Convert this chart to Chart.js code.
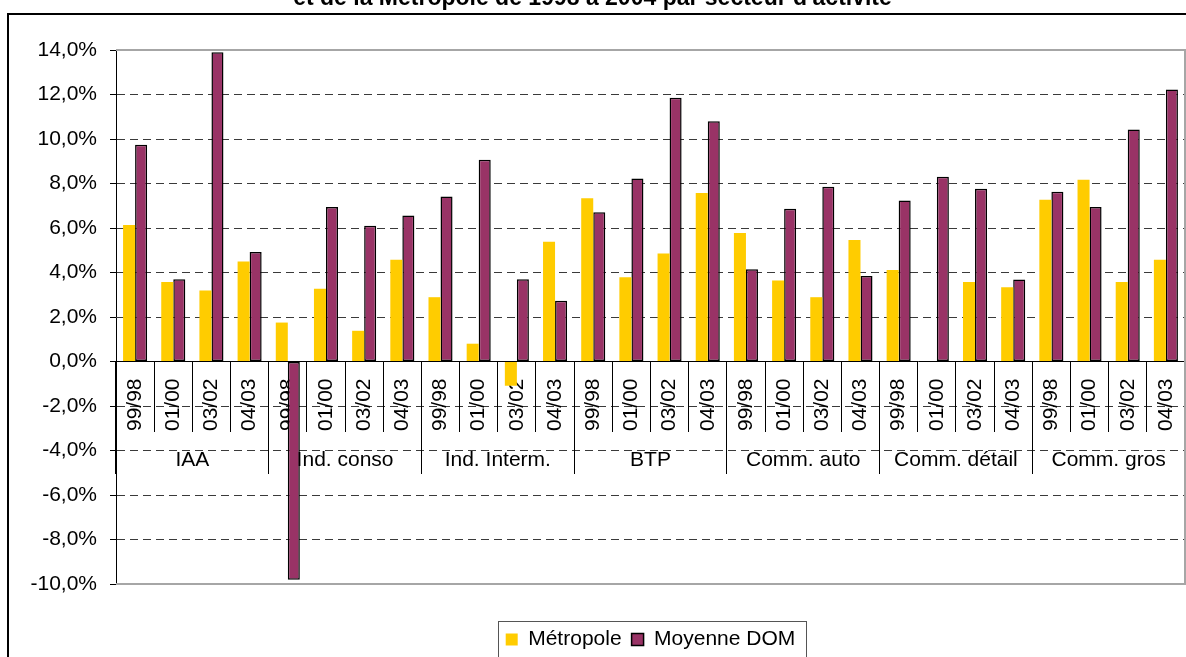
<!DOCTYPE html>
<html>
<head>
<meta charset="utf-8">
<script src="https://cdn.jsdelivr.net/npm/chart.js@4.4.1/dist/chart.umd.min.js"></script>
<style>
html,body{margin:0;padding:0;background:#fff;overflow:hidden;width:1186px;height:657px;}
#frame{position:absolute;left:7px;top:13px;width:1220px;height:720px;border:2px solid #000;box-sizing:border-box;}
#wrap{position:absolute;left:0;top:-16px;width:1186px;height:676px;}
</style>
</head>
<body>
<div id="frame"></div>
<div id="wrap"><canvas id="c" width="1186" height="676"></canvas></div>
<script>
// ---- data ----
const sectors = ['IAA', 'Ind. conso', 'Ind. Interm.', 'BTP', 'Comm. auto', 'Comm. détail', 'Comm. gros'];
const periods = ['99/98', '01/00', '03/02', '04/03'];
const metropole = [6.14, 3.57, 3.19, 4.49, 1.75, 3.27, 1.38, 4.57, 2.89, 0.80, -1.09, 5.38, 7.34, 3.79, 4.85, 7.57, 5.77, 3.64, 2.89, 5.46, 4.11, null, 3.57, 3.34, 7.27, 8.17, 3.57, 4.57];
const moyenneDOM = [9.74, 3.70, 13.90, 4.92, -9.81, 6.94, 6.10, 6.56, 7.42, 9.07, 3.70, 2.73, 6.71, 8.22, 11.85, 10.80, 4.15, 6.86, 7.85, 3.84, 7.24, 8.30, 7.76, 3.69, 7.63, 6.94, 10.43, 12.22];
const seriesNames = ['Métropole', 'Moyenne DOM'];
const yMin = -10, yMax = 14, yStep = 2;
const titleText = "et de la Métropole de 1998 à 2004 par secteur d'activité";

const labels = sectors.flatMap(() => periods);
const FONT = "'Liberation Sans', Arial, sans-serif";
Chart.defaults.font.family = FONT;
Chart.defaults.color = '#000';

const fmt = v => Number(v).toFixed(1).replace('.', ',') + '%';

const plotFrame = {
  id: 'plotFrame',
  afterDatasetsDraw(chart) {
    const {ctx, chartArea: a} = chart;
    ctx.save();
    ctx.strokeStyle = '#a6a6a6';
    ctx.lineWidth = 2;
    ctx.beginPath();
    ctx.moveTo(a.left, a.top);
    ctx.lineTo(a.right, a.top);
    ctx.lineTo(a.right, a.bottom);
    ctx.lineTo(a.left, a.bottom);
    ctx.stroke();
    ctx.restore();
  }
};

const legendFrame = {
  id: 'legendFrame',
  afterDraw(chart) {
    const lg = chart.legend;
    if (!lg || !lg.legendHitBoxes || !lg.legendHitBoxes.length) return;
    const hb = lg.legendHitBoxes;
    const l = Math.min(...hb.map(h => h.left)) - 8;
    const r = Math.max(...hb.map(h => h.left + h.width)) + 10;
    const t = hb[0].top - 8;
    const ctx = chart.ctx;
    ctx.save();
    ctx.strokeStyle = '#555';
    ctx.lineWidth = 1;
    ctx.strokeRect(Math.round(l) + 0.5, Math.round(t) + 0.5, Math.round(r - l), chart.height - t + 20);
    ctx.restore();
  }
};

new Chart(document.getElementById('c'), {
  type: 'bar',
  data: {
    labels: labels,
    datasets: [
      { label: seriesNames[0], data: metropole, backgroundColor: '#FFCC00', borderWidth: 0,
        categoryPercentage: 0.63, barPercentage: 1 },
      { label: seriesNames[1], data: moyenneDOM, backgroundColor: '#993366', borderColor: '#000',
        borderWidth: 1.5, borderSkipped: false, categoryPercentage: 0.63, barPercentage: 1 }
    ]
  },
  options: {
    responsive: false,
    animation: false,
    events: [],
    layout: { padding: { left: 0, right: 1, top: 0, bottom: 0 } },
    plugins: {
      tooltip: { enabled: false },
      title: {
        display: true, text: titleText, color: '#000',
        font: { size: 23, weight: 'bold', lineHeight: 1.2 },
        padding: { top: 1, bottom: 37.4 }
      },
      legend: {
        position: 'bottom', fullSize: false, align: 'center',
        title: { display: true, text: ' ', font: { size: 10, lineHeight: 1 }, padding: { top: 25, bottom: 0 } },
        labels: { boxWidth: 12, boxHeight: 12, padding: 10, font: { size: 21 }, color: '#000' }
      }
    },
    scales: {
      y: {
        min: yMin, max: yMax,
        afterFit: s => { s.width = 116; },
        ticks: { stepSize: yStep, callback: v => fmt(v), font: { size: 21 }, padding: 13, color: '#000' },
        grid: {
          color: c => (c.tick && (c.tick.value === yMax || c.tick.value === yMin)) ? 'rgba(0,0,0,0)' : '#3a3a3a',
          lineWidth: 1, tickLength: 6, tickColor: '#000', drawTicks: true
        },
        border: { display: true, color: '#000', width: 1, dash: [8, 5] }
      },
      x: {
        type: 'category', position: { y: 0 }, z: 1,
        afterFit: s => { s.height = 0; },
        ticks: { autoSkip: false, minRotation: 90, maxRotation: 90, padding: -53, font: { size: 21 }, color: '#000' },
        grid: { offset: true, drawOnChartArea: false, drawTicks: true, tickLength: 70, color: '#000', tickColor: '#000', lineWidth: 1 },
        border: { display: true, color: '#000', width: 1 }
      },
      x2: {
        type: 'category', axis: 'x', labels: sectors, min: 0, max: sectors.length - 1,
        position: { y: 0 }, z: 1, offset: true,
        afterFit: s => { s.height = 0; },
        ticks: { autoSkip: false, minRotation: 0, maxRotation: 0, padding: -27, font: { size: 21 }, color: '#000' },
        grid: { offset: true, drawOnChartArea: false, drawTicks: true, tickLength: 113, color: '#000', tickColor: '#000', lineWidth: 1 },
        border: { display: false }
      }
    }
  },
  plugins: [plotFrame, legendFrame]
});
</script>
</body>
</html>
